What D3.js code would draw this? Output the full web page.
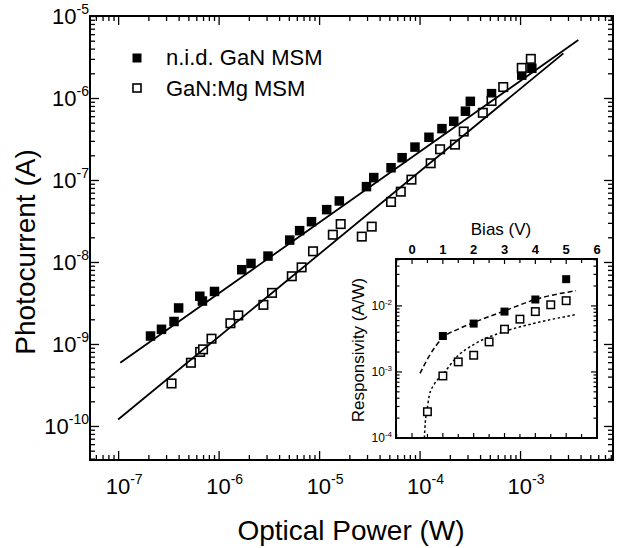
<!DOCTYPE html>
<html><head><meta charset="utf-8">
<script src="https://cdn.jsdelivr.net/npm/d3@7"></script>
<style>
body{margin:0;background:#fff}
text{font-family:"Liberation Sans",Arial,Helvetica,sans-serif;fill:#000}
</style></head>
<body><svg id="chart" width="618" height="548"></svg>
<script>
// ---- Main chart data ----
const powerNid = [2.1e-7, 2.7e-7, 3.6e-7, 4.0e-7, 6.5e-7, 6.9e-7, 9.1e-7, 1.7e-6, 2.1e-6, 3.1e-6, 5.1e-6, 6.4e-6, 8.4e-6, 1.19e-5, 1.59e-5, 2.96e-5, 3.5e-5, 5.2e-5, 6.7e-5, 9.0e-5, 1.24e-4, 1.67e-4, 2.19e-4, 2.86e-4, 3.2e-4, 5.2e-4, 1.04e-3, 1.31e-3];
const currentNid = [1.25e-9, 1.51e-9, 1.88e-9, 2.75e-9, 3.82e-9, 3.34e-9, 4.37e-9, 8.05e-9, 9.6e-9, 1.18e-8, 1.85e-8, 2.41e-8, 3.1e-8, 4.35e-8, 5.55e-8, 8.3e-8, 1.07e-7, 1.41e-7, 1.87e-7, 2.52e-7, 3.32e-7, 4.23e-7, 5.2e-7, 6.9e-7, 9.1e-7, 1.13e-6, 1.9e-6, 2.3e-6];
const powerMg = [3.4e-7, 5.3e-7, 6.55e-7, 7.0e-7, 8.5e-7, 1.31e-6, 1.57e-6, 2.79e-6, 3.4e-6, 5.35e-6, 6.7e-6, 8.7e-6, 1.37e-5, 1.64e-5, 2.66e-5, 3.34e-5, 5.2e-5, 6.5e-5, 8.3e-5, 1.29e-4, 1.6e-4, 2.25e-4, 2.75e-4, 4.26e-4, 5.2e-4, 6.8e-4, 1.04e-3, 1.28e-3];
const currentMg = [3.3e-10, 5.9e-10, 8.0e-10, 8.6e-10, 1.16e-9, 1.79e-9, 2.23e-9, 3.0e-9, 4.2e-9, 6.7e-9, 8.6e-9, 1.35e-8, 2.15e-8, 2.9e-8, 2.04e-8, 2.7e-8, 5.4e-8, 7.2e-8, 1.01e-7, 1.6e-7, 2.37e-7, 2.7e-7, 3.9e-7, 6.6e-7, 9.2e-7, 1.36e-6, 2.33e-6, 3.0e-6];
const fitNidPower = [1.05e-7, 3.8e-3];
const fitNidCurrent = [5.9e-10, 5.1e-6];
const fitMgPower = [1.0e-7, 2.7e-3];
const fitMgCurrent = [1.2e-10, 3.5e-6];
const xTickExps = [-7, -6, -5, -4, -3];
const yTickExps = [-10, -9, -8, -7, -6, -5];
const legendLabels = ["n.i.d. GaN MSM", "GaN:Mg MSM"];
const xTitle = "Optical Power (W)";
const yTitle = "Photocurrent (A)";

// ---- Inset data ----
const biasNid = [1, 2, 3, 4, 5];
const respNid = [3.5e-3, 5.4e-3, 8.2e-3, 1.25e-2, 2.54e-2];
const biasMg = [0.5, 1, 1.5, 2, 2.5, 3, 3.5, 4, 4.5, 5];
const respMg = [2.5e-4, 8.7e-4, 1.42e-3, 1.79e-3, 2.85e-3, 4.44e-3, 6.3e-3, 8.2e-3, 1.04e-2, 1.2e-2];
const curveNidBias = [0.26, 0.56, 1.0, 1.5, 2.0, 3.0, 4.0, 5.32];
const curveNidResp = [9.5e-4, 1.75e-3, 3.3e-3, 4.45e-3, 5.6e-3, 8.4e-3, 1.25e-2, 1.7e-2];
const curveMgBias = [0.40, 0.43, 0.48, 0.56, 0.72, 1.0, 1.48, 2.0, 3.0, 4.0, 5.32];
const curveMgResp = [1.0e-4, 1.74e-4, 2.5e-4, 4.4e-4, 6.5e-4, 9.2e-4, 1.74e-3, 2.6e-3, 4.1e-3, 5.5e-3, 7.4e-3];
const biasTicks = [0, 1, 2, 3, 4, 5, 6];
const respTickExps = [-4, -3, -2];
const insetXTitle = "Bias (V)";
const insetYTitle = "Responsivity (A/W)";

const svg = d3.select("#chart");
const L = 90, R = 613, T = 16, B = 460;
const x = d3.scaleLog().domain([Math.pow(10, -7.28), Math.pow(10, -2.075)]).range([L, R]);
const y = d3.scaleLog().domain([Math.pow(10, -10.415), 1e-5]).range([B, T]);

function logTicks(lo, hi) {
  const t = [];
  for (let e = Math.floor(Math.log10(lo)) - 1; e <= Math.ceil(Math.log10(hi)); e++)
    for (let k = 1; k < 10; k++) { const v = k * Math.pow(10, e); if (v >= lo * 0.999 && v <= hi * 1.001) t.push(v); }
  return t;
}
function isMajor(v) { const l = Math.log10(v); return Math.abs(l - Math.round(l)) < 1e-6; }

function drawTicks(g, axisFn, scale, vals, major, minor) {
  g.call(axisFn(scale).tickValues(vals).tickFormat("").tickSizeOuter(0)
    .tickSize(0))
   .call(s => s.select(".domain").remove());
  g.selectAll(".tick line").remove();
  g.selectAll(".tick").append("line")
    .attr("stroke", "#000").attr("stroke-width", 1.3)
    .each(function(d) {
      const len = isMajor(d) ? major : minor;
      const sel = d3.select(this);
      if (axisFn === d3.axisBottom) sel.attr("y2", -len);
      else if (axisFn === d3.axisTop) sel.attr("y2", len);
      else if (axisFn === d3.axisLeft) sel.attr("x2", len);
      else sel.attr("x2", -len);
    });
}

// main ticks
const xt = logTicks(x.domain()[0], x.domain()[1]);
const yt = logTicks(y.domain()[0], y.domain()[1]);
drawTicks(svg.append("g").attr("transform", `translate(0,${B})`), d3.axisBottom, x, xt, 9, 5);
drawTicks(svg.append("g").attr("transform", `translate(0,${T})`), d3.axisTop, x, xt, 9, 5);
drawTicks(svg.append("g").attr("transform", `translate(${L},0)`), d3.axisLeft, y, yt, 9, 5);
drawTicks(svg.append("g").attr("transform", `translate(${R},0)`), d3.axisRight, y, yt, 9, 5);
svg.append("rect").attr("x", L).attr("y", T).attr("width", R - L).attr("height", B - T)
  .attr("fill", "none").attr("stroke", "#000").attr("stroke-width", 2);

function supLabel(g, exp, bs, es, rise) {
  g.append("tspan").text("10").attr("font-size", bs);
  g.append("tspan").text(exp).attr("font-size", es).attr("dy", -rise);
}
// x labels
xTickExps.forEach(e => {
  const t = svg.append("text").attr("x", x(Math.pow(10, e)) + 6).attr("y", 494).attr("text-anchor", "middle");
  supLabel(t, String(e), 22, 14, 10);
});
// y labels
yTickExps.forEach(e => {
  const t = svg.append("text").attr("x", 89).attr("y", y(Math.pow(10, e)) + 8).attr("text-anchor", "end");
  supLabel(t, String(e), 22, 14, 10);
});
svg.append("text").attr("x", 351).attr("y", 540).attr("text-anchor", "middle").attr("font-size", 28).text(xTitle);
svg.append("text").attr("transform", "translate(35,252) rotate(-90)").attr("text-anchor", "middle").attr("font-size", 28).text(yTitle);

// fit lines
const fits = [[fitNidPower, fitNidCurrent], [fitMgPower, fitMgCurrent]];
// markers
const nid = powerNid.map((p, i) => [p, currentNid[i]]);
const mg = powerMg.map((p, i) => [p, currentMg[i]]);
const S = 9.5;
svg.append("g").selectAll("rect").data(nid).join("rect")
  .attr("x", d => x(d[0]) - S / 2).attr("y", d => y(d[1]) - S / 2).attr("width", S).attr("height", S).attr("fill", "#000");
const So = 8.5;
svg.append("g").selectAll("rect").data(mg).join("rect")
  .attr("x", d => x(d[0]) - So / 2).attr("y", d => y(d[1]) - So / 2).attr("width", So).attr("height", So)
  .attr("fill", "#fff").attr("stroke", "#000").attr("stroke-width", 1.6);
fits.forEach(([px, cy]) => {
  svg.append("path").attr("d", d3.line().x(d => x(d[0])).y(d => y(d[1]))(px.map((p, i) => [p, cy[i]])))
    .attr("stroke", "#000").attr("stroke-width", 1.8).attr("fill", "none");
});

// legend
svg.append("rect").attr("x", 132.5).attr("y", 53.5).attr("width", 9).attr("height", 9).attr("fill", "#000");
svg.append("rect").attr("x", 133).attr("y", 84).attr("width", 8).attr("height", 8).attr("fill", "#fff").attr("stroke", "#000").attr("stroke-width", 1.6);
svg.append("text").attr("x", 166).attr("y", 65).attr("font-size", 22).text(legendLabels[0]);
svg.append("text").attr("x", 166).attr("y", 96).attr("font-size", 22).text(legendLabels[1]);

// ---- Inset ----
const iL = 396, iR = 597, iT = 259, iB = 438;
const ix = d3.scaleLinear().domain([-0.52, 6.0]).range([iL, iR]);
const iy = d3.scaleLog().domain([1e-4, Math.pow(10, -1.29)]).range([iB, iT]);
svg.append("rect").attr("x", iL).attr("y", iT).attr("width", iR - iL).attr("height", iB - iT)
  .attr("fill", "#fff").attr("stroke", "none");
const bt = d3.range(-0.5, 6.01, 0.5).filter(v => v >= ix.domain()[0]);
[[iB, 1], [iT, -1]].forEach(([yy, dir]) => {
  svg.append("g").selectAll("line").data(bt).join("line")
    .attr("x1", d => ix(d)).attr("x2", d => ix(d)).attr("y1", yy).attr("y2", d => yy - dir * (Number.isInteger(d) ? 5 : 4))
    .attr("stroke", "#000").attr("stroke-width", 1.2);
});
const it = logTicks(iy.domain()[0], iy.domain()[1]);
[[iL, 1], [iR, -1]].forEach(([xx, dir]) => {
  svg.append("g").selectAll("line").data(it).join("line")
    .attr("y1", d => iy(d)).attr("y2", d => iy(d)).attr("x1", xx).attr("x2", d => xx + dir * (isMajor(d) ? 6 : 3.5))
    .attr("stroke", "#000").attr("stroke-width", 1.2);
});
svg.append("rect").attr("x", iL).attr("y", iT).attr("width", iR - iL).attr("height", iB - iT)
  .attr("fill", "none").attr("stroke", "#000").attr("stroke-width", 2);

biasTicks.forEach(b => {
  svg.append("text").attr("x", ix(b)).attr("y", 254).attr("text-anchor", "middle")
    .attr("font-size", 13).attr("font-weight", "bold").text(b);
});
svg.append("text").attr("x", 501).attr("y", 235).attr("text-anchor", "middle").attr("font-size", 17).text(insetXTitle);
respTickExps.forEach(e => {
  const t = svg.append("text").attr("x", 392).attr("y", iy(Math.pow(10, e)) + 4).attr("text-anchor", "end");
  supLabel(t, String(e), 12, 8, 5);
});
svg.append("text").attr("transform", "translate(364,350) rotate(-90)").attr("text-anchor", "middle").attr("font-size", 17).text(insetYTitle);

const curveLine = d3.line().x(d => ix(d[0])).y(d => iy(d[1])).curve(d3.curveMonotoneX);
svg.append("path").attr("d", curveLine(curveNidBias.map((b, i) => [b, curveNidResp[i]])))
  .attr("fill", "none").attr("stroke", "#000").attr("stroke-width", 1.5).attr("stroke-dasharray", "5,3");
svg.append("path").attr("d", curveLine(curveMgBias.map((b, i) => [b, curveMgResp[i]])))
  .attr("fill", "none").attr("stroke", "#000").attr("stroke-width", 1.5).attr("stroke-dasharray", "2.5,2.5");
const iS = 8;
svg.append("g").selectAll("rect").data(biasMg.map((b, i) => [b, respMg[i]])).join("rect")
  .attr("x", d => ix(d[0]) - 3.75).attr("y", d => iy(d[1]) - 3.75).attr("width", 7.5).attr("height", 7.5)
  .attr("fill", "#fff").attr("stroke", "#000").attr("stroke-width", 1.5);
svg.append("g").selectAll("rect").data(biasNid.map((b, i) => [b, respNid[i]])).join("rect")
  .attr("x", d => ix(d[0]) - iS / 2).attr("y", d => iy(d[1]) - iS / 2).attr("width", iS).attr("height", iS).attr("fill", "#000");
</script></body></html>
